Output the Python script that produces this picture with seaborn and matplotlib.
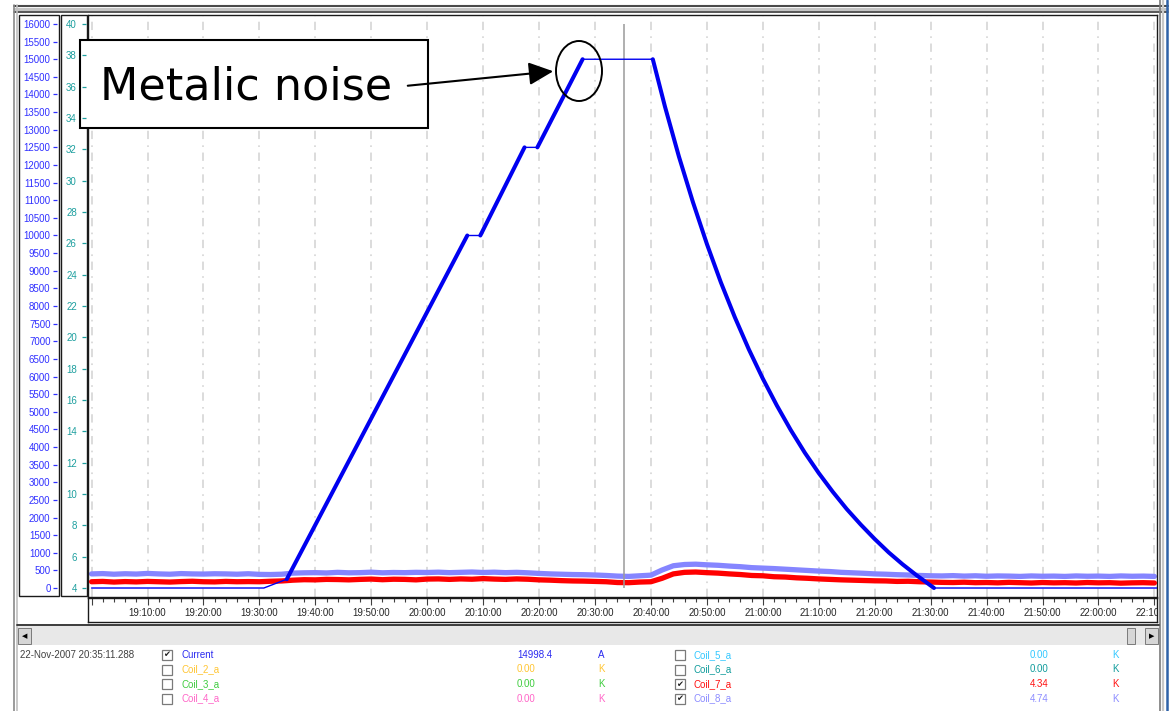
import numpy as np
import pandas as pd
import matplotlib
matplotlib.use("Agg")
import matplotlib.pyplot as plt
import matplotlib.dates as mdates
from matplotlib.patches import Rectangle, Ellipse, FancyArrowPatch
from matplotlib.lines import Line2D
import seaborn as sns

# ------------------------------------------------------------------ data
day = "2007-11-22"
cursor_stamp = "22-Nov-2007 20:35:11.288"
cursor_time = "20:35:11.288"

# magnet current (A): ramp / hold / discharge cycle
current_times = ["19:00:00", "19:30:48", "19:34:54", "20:07:10", "20:09:30",
                 "20:17:24", "20:19:42", "20:27:47", "20:40:20", "20:42:30",
                 "20:45:00", "20:47:30", "20:50:00", "20:52:30", "20:55:00",
                 "20:57:30", "21:00:00", "21:02:30", "21:05:00", "21:07:30",
                 "21:10:00", "21:12:30", "21:15:00", "21:17:30", "21:20:00",
                 "21:22:30", "21:25:00", "21:27:30", "21:30:00", "21:30:36",
                 "22:10:28"]
current_amps = [0, 0, 250, 10000, 10000,
                12500, 12500, 15000, 15000, 13660,
                12240, 10950, 9760, 8670, 7680,
                6770, 5940, 5180, 4480, 3840,
                3260, 2730, 2240, 1800, 1390,
                1010, 670, 360, 70, 0,
                0]

# coil temperatures (K), one sample every 2 minutes from 19:00 to 22:10
coil_start = "19:00"
coil_step = "2min"
coil7_kelvin = [
    4.40, 4.42, 4.38, 4.41, 4.39, 4.42, 4.40, 4.38, 4.41, 4.43,
    4.40, 4.39, 4.42, 4.40, 4.41, 4.40, 4.43, 4.45, 4.50, 4.53,
    4.52, 4.55, 4.54, 4.52, 4.55, 4.57, 4.53, 4.56, 4.55, 4.52,
    4.57, 4.58, 4.55, 4.58, 4.56, 4.60, 4.57, 4.55, 4.58, 4.56,
    4.52, 4.50, 4.47, 4.45, 4.44, 4.42, 4.40, 4.35, 4.34, 4.38,
    4.40, 4.62, 4.90, 5.00, 5.02, 4.98, 4.95, 4.90, 4.86, 4.80,
    4.78, 4.72, 4.70, 4.65, 4.62, 4.58, 4.55, 4.52, 4.50, 4.48,
    4.46, 4.45, 4.42, 4.43, 4.40, 4.38, 4.36, 4.35, 4.37, 4.34,
    4.35, 4.33, 4.36, 4.34, 4.32, 4.35, 4.33, 4.34, 4.32, 4.35,
    4.33, 4.34, 4.31, 4.33, 4.34, 4.32]
coil8_kelvin = [
    4.90, 4.92, 4.88, 4.91, 4.89, 4.93, 4.90, 4.88, 4.92, 4.90,
    4.89, 4.91, 4.90, 4.88, 4.91, 4.87, 4.86, 4.88, 4.95, 4.97,
    4.98, 4.96, 5.00, 4.97, 4.98, 5.01, 4.97, 4.99, 4.98, 5.00,
    4.99, 5.01, 4.98, 5.00, 5.02, 4.99, 5.01, 4.98, 5.00, 4.97,
    4.93, 4.90, 4.88, 4.86, 4.85, 4.83, 4.80, 4.76, 4.74, 4.78,
    4.82, 5.15, 5.42, 5.50, 5.52, 5.48, 5.45, 5.40, 5.36, 5.30,
    5.27, 5.24, 5.20, 5.16, 5.12, 5.08, 5.05, 5.00, 4.97, 4.94,
    4.90, 4.88, 4.85, 4.83, 4.80, 4.78, 4.77, 4.79, 4.76, 4.78,
    4.75, 4.77, 4.76, 4.74, 4.77, 4.75, 4.76, 4.74, 4.77, 4.75,
    4.76, 4.74, 4.77, 4.75, 4.76, 4.74]

# channel table shown under the chart
channel_names = ["Current", "Coil_2_a", "Coil_3_a", "Coil_4_a",
                 "Coil_5_a", "Coil_6_a", "Coil_7_a", "Coil_8_a"]
channel_checked = [True, False, False, False, False, False, True, True]
channel_values = ["14998.4", "0.00", "0.00", "0.00", "0.00", "0.00", "4.34", "4.74"]
channel_units = ["A", "K", "K", "K", "K", "K", "K", "K"]
channel_colors = ["#2a2af0", "#ffc533", "#3fcc3f", "#ff66c8",
                  "#33c8ff", "#119c9c", "#ff1010", "#8c8cff"]

current_ticks = list(range(0, 16001, 500))
kelvin_ticks = list(range(4, 41, 2))
current_range = (-255, 16255)
kelvin_range = (3.426, 40.574)
time_range = ("18:59:25", "22:10:28")

# ------------------------------------------------------------------ style
BLUE = "#0000f0"
RED = "#ff0000"
LAVENDER = "#8585ff"
AXIS_BLUE = "#3030ff"
AXIS_TEAL = "#1d9f9f"

sns.set_theme(style="white")
plt.rcParams["font.family"] = ["Liberation Sans", "DejaVu Sans"]
plt.rcParams["lines.scale_dashes"] = False

W, H = 1169, 711
fig = plt.figure(figsize=(W / 100, H / 100), dpi=100, facecolor="white")


def fx(x):
    return x / W


def fy(y):
    return 1 - y / H


def axes_px(x0, y0, x1, y1, **kw):
    return fig.add_axes([fx(x0), fy(y1), (x1 - x0) / W, (y1 - y0) / H], **kw)


def rect_px(x0, y0, x1, y1, **kw):
    r = Rectangle((fx(x0), fy(y1)), (x1 - x0) / W, (y1 - y0) / H,
                  transform=fig.transFigure, **kw)
    fig.add_artist(r)
    return r


def hline_px(x0, x1, y, **kw):
    fig.add_artist(Line2D([fx(x0), fx(x1)], [fy(y), fy(y)],
                          transform=fig.transFigure, **kw))


def vline_px(x, y0, y1, **kw):
    fig.add_artist(Line2D([fx(x), fx(x)], [fy(y0), fy(y1)],
                          transform=fig.transFigure, **kw))


def stamp(t):
    return pd.Timestamp(f"{day} {t}")


cur_df = pd.DataFrame({"time": [stamp(t) for t in current_times],
                       "amps": current_amps})
coil_time = pd.date_range(stamp(coil_start), periods=len(coil7_kelvin), freq=coil_step)
coil_df = pd.DataFrame({"time": coil_time, "coil7": coil7_kelvin, "coil8": coil8_kelvin})

# steep parts of the current trace are drawn heavier (fast-changing samples)
runs, run_id, prev_thick = [], 0, False
for i in range(len(cur_df) - 1):
    t0, t1 = cur_df.time[i], cur_df.time[i + 1]
    a0, a1 = cur_df.amps[i], cur_df.amps[i + 1]
    rate = abs(a1 - a0) / ((t1 - t0).total_seconds() / 60)
    thick = rate > 100
    if thick:
        if not prev_thick:
            run_id += 1
        runs.append((run_id, t0, a0))
        runs.append((run_id, t1, a1))
    prev_thick = thick
thick_df = pd.DataFrame(runs, columns=["run", "time", "amps"])

xmin, xmax = stamp(time_range[0]), stamp(time_range[1])

# ------------------------------------------------------------------ main plot
ax_k = axes_px(88.3, 15, 1157, 597)
ax_k.set_xlim(xmin, xmax)
ax_k.set_ylim(*kelvin_range)
ax_k.xaxis.set_major_locator(mdates.MinuteLocator(byminute=range(0, 60, 10)))
ax_k.grid(axis="x", which="major", color="#d2d2d2", lw=1.1,
          linestyle=(0, (6, 4, 1.2, 4.5)))
for s in ax_k.spines.values():
    s.set_color("#1a1a1a")
    s.set_linewidth(1.0)

sns.lineplot(data=coil_df, x="time", y="coil8", ax=ax_k, color=LAVENDER,
             lw=3.8, legend=False, solid_joinstyle="round", zorder=2)
sns.lineplot(data=coil_df, x="time", y="coil7", ax=ax_k, color=RED,
             lw=3.8, legend=False, solid_joinstyle="round", zorder=3)
ax_k.vlines(stamp(cursor_time), kelvin_ticks[0], kelvin_ticks[-1],
            color="#9a9a9a", lw=1.1, zorder=4)
ax_k.set_xlabel("")
ax_k.set_ylabel("")

ax_a = ax_k.twinx()
ax_a.set_ylim(*current_range)
sns.lineplot(data=cur_df, x="time", y="amps", ax=ax_a, color=BLUE, lw=1.0,
             legend=False, estimator=None, sort=False)
sns.lineplot(data=thick_df, x="time", y="amps", units="run", ax=ax_a, color=BLUE,
             lw=2.9, legend=False, estimator=None, sort=False,
             solid_joinstyle="round", solid_capstyle="round")
ax_a.set_ylim(*current_range)
ax_a.set_xlim(xmin, xmax)
ax_a.set_xlabel("")
ax_a.set_ylabel("")
for a in (ax_k, ax_a):
    a.tick_params(axis="both", which="both", bottom=False, top=False, left=False,
                  right=False, labelbottom=False, labeltop=False,
                  labelleft=False, labelright=False)
for s in ax_a.spines.values():
    s.set_visible(False)

# ------------------------------------------------------------------ time panel
ax_t = axes_px(88.3, 597.5, 1157, 622)
ax_t.set_xlim(xmin, xmax)
ax_t.set_ylim(0, 1)
ax_t.xaxis.set_major_locator(mdates.MinuteLocator(byminute=range(0, 60, 10)))
ax_t.xaxis.set_minor_locator(mdates.MinuteLocator(byminute=range(0, 60, 2)))
ax_t.tick_params(axis="x", which="both", top=True, bottom=False, labelbottom=False,
                 labeltop=False, direction="in", color="#404040", width=0.8)
ax_t.tick_params(axis="x", which="major", length=5)
ax_t.tick_params(axis="x", which="minor", length=3)
ax_t.set_yticks([])
for s in ax_t.spines.values():
    s.set_color("#1a1a1a")
    s.set_linewidth(1.0)
lo, hi = mdates.date2num(xmin), mdates.date2num(xmax)
for v in ax_t.xaxis.get_major_locator().tick_values(xmin, xmax):
    if v < lo + 4 / 1440 or v > hi:
        continue
    ax_t.text(v, 0.37, mdates.num2date(v).strftime("%H:%M:%S"), ha="center",
              va="center", fontsize=7, color="#262626", clip_on=True)

# ------------------------------------------------------------------ value axes
rect_px(19, 15, 59, 596, fill=False, ec="#1a1a1a", lw=1.0)
rect_px(61, 15, 86.7, 596, fill=False, ec="#1a1a1a", lw=1.0)

ax_ia = axes_px(53, 15, 57.3, 597)
ax_ia.set_ylim(*current_range)
ax_ia.set_yticks(current_ticks)
ax_ia.set_xticks([])
ax_ia.tick_params(axis="y", left=False, right=True, labelleft=True, labelright=False,
                  direction="in", length=3, width=0.9, colors=AXIS_BLUE,
                  labelsize=7, pad=1.8)
ax_ia.patch.set_visible(False)
for s in ax_ia.spines.values():
    s.set_visible(False)

ax_ti = axes_px(81.5, 15, 85.5, 597)
ax_ti.set_ylim(*kelvin_range)
ax_ti.set_yticks(kelvin_ticks)
ax_ti.set_xticks([])
ax_ti.tick_params(axis="y", left=False, right=True, labelleft=True, labelright=False,
                  direction="in", length=3, width=0.9, colors=AXIS_TEAL,
                  labelsize=7, pad=3.3)
ax_ti.patch.set_visible(False)
for s in ax_ti.spines.values():
    s.set_visible(False)
ax_ti.set_zorder(20)

# ------------------------------------------------------------------ window frame
hline_px(14, 1168, 5.5, color="#4a4a4a", lw=1.5)
hline_px(14, 1168, 8.7, color="#c4c4c4", lw=2.2)
hline_px(14, 1168, 12, color="#3a3a3a", lw=1.2)
vline_px(14, 5, 711, color="#8a8a8a", lw=1.2)
vline_px(16.5, 5, 711, color="#c0c0c0", lw=1.2)
vline_px(1160, 0, 711, color="#7a7a7a", lw=1.2)
vline_px(1163, 0, 711, color="#c8c8c8", lw=1.6)
vline_px(1167, 0, 711, color="#2f62a8", lw=1.8)

# scroll bar
hline_px(17, 1159, 624.5, color="#3c3c3c", lw=1.4)
rect_px(17, 626, 1159, 645, fc="#e8e8e8", ec="none")
rect_px(18, 628, 31, 644, fc="#d6d6d6", ec="#7a7a7a", lw=0.7)
fig.text(fx(24.5), fy(636), "◀", fontsize=5, ha="center", va="center",
         color="black", family="DejaVu Sans")
rect_px(1127, 628, 1135, 644, fc="#d6d6d6", ec="#7a7a7a", lw=0.7)
rect_px(1145, 628, 1158, 644, fc="#d6d6d6", ec="#7a7a7a", lw=0.7)
fig.text(fx(1151.5), fy(636), "▶", fontsize=5, ha="center", va="center",
         color="black", family="DejaVu Sans")

# ------------------------------------------------------------------ channel table
fig.text(fx(20), fy(655), cursor_stamp, fontsize=7, color="#404040",
         ha="left", va="center")
row_y = [655, 669.5, 684, 698.5]
columns = [dict(box=167, name=181, value=517, unit=598),
           dict(box=680, name=694, value=1030, unit=1112)]
for i, name in enumerate(channel_names):
    col = columns[i // 4]
    y = row_y[i % 4]
    c = channel_colors[i]
    rect_px(col["box"] - 5, y - 5, col["box"] + 5, y + 5, fc="white",
            ec="#7a7a7a", lw=0.9)
    if channel_checked[i]:
        fig.text(fx(col["box"]), fy(y), "✔", fontsize=6, ha="center", va="center",
                 color="#202020", family="DejaVu Sans")
    fig.text(fx(col["name"]), fy(y), name, fontsize=7, color=c, ha="left", va="center")
    fig.text(fx(col["value"]), fy(y), channel_values[i], fontsize=7, color=c,
             ha="left", va="center")
    fig.text(fx(col["unit"]), fy(y), channel_units[i], fontsize=7, color=c,
             ha="left", va="center")

# ------------------------------------------------------------------ callout
rect_px(80, 40, 428, 128, fc="white", ec="black", lw=1.5, zorder=10)
fig.text(fx(246), fy(87), "Metalic noise", fontsize=32, ha="center", va="center",
         color="black", family="DejaVu Sans", zorder=11)
fig.add_artist(FancyArrowPatch((fx(405), fy(86)), (fx(556), fy(71)),
                               transform=fig.transFigure,
                               arrowstyle="-|>,head_length=0.75,head_width=0.35",
                               mutation_scale=20, color="black", lw=1.5, zorder=11))
fig.add_artist(Ellipse((fx(579), fy(71)), 46 / W, 60 / H, transform=fig.transFigure,
                       fill=False, ec="black", lw=1.4, zorder=11))

fig.savefig("out.png", dpi=100)
